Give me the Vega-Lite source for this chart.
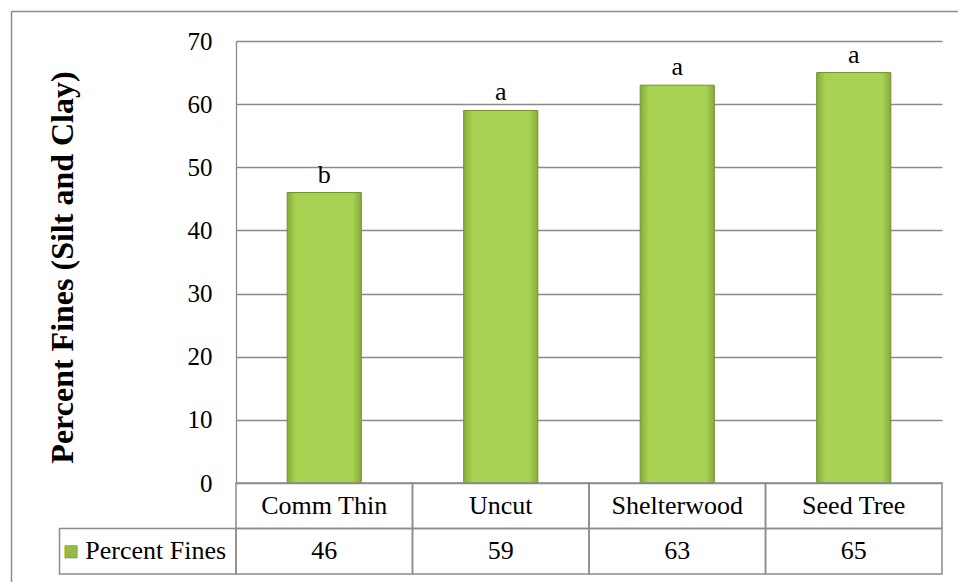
{
  "$schema": "https://vega.github.io/schema/vega-lite/v6.json",
  "width": 706,
  "height": 533,
  "autosize": {"type": "none"},
  "padding": {"left": 236, "top": 41, "right": 16, "bottom": 8},
  "background": "white",
  "config": {"view": {"stroke": null}},
  "datasets": {
    "fines": [
      {"treatment": "Comm Thin", "fines": 46, "letter": "b"},
      {"treatment": "Uncut", "fines": 59, "letter": "a"},
      {"treatment": "Shelterwood", "fines": 63, "letter": "a"},
      {"treatment": "Seed Tree", "fines": 65, "letter": "a"}
    ],
    "legendcell": [
      {"treatment": "Legend", "row": "fines", "label": "Percent Fines", "symbol": "■"}
    ],
    "frame": [{"fx": 0, "fy": 0}]
  },
  "resolve": {"scale": {"x": "independent", "y": "independent"}, "axis": {"x": "independent", "y": "independent"}},
  "layer": [
    {
      "data": {"name": "frame"},
      "mark": {"type": "point", "opacity": 0},
      "encoding": {
        "x": {"field": "fx", "type": "quantitative", "scale": {"domain": [0, 1], "range": [-225, 722], "nice": false, "zero": false},
          "axis": {"orient": "top", "offset": 30, "domainColor": "#8c8c8c", "domainWidth": 1.5, "labels": false, "ticks": false, "grid": false, "title": null}},
        "y": {"field": "fy", "type": "quantitative", "scale": {"domain": [0, 1], "range": [-30, 541], "nice": false, "zero": false},
          "axis": {"orient": "left", "offset": 225, "domainColor": "#8c8c8c", "domainWidth": 1.5, "labels": false, "ticks": false, "grid": false, "title": null}}
      }
    },
    {
      "data": {"name": "fines"},
      "mark": {
        "type": "bar",
        "width": {"band": 0.42},
        "stroke": "#71902f",
        "strokeWidth": 1,
        "fill": {
          "gradient": "linear", "x1": 0, "y1": 0, "x2": 1, "y2": 0,
          "stops": [
            {"offset": 0, "color": "#88ab3b"},
            {"offset": 0.12, "color": "#a8d352"},
            {"offset": 0.88, "color": "#a8d352"},
            {"offset": 1, "color": "#88ab3b"}
          ]
        }
      },
      "encoding": {
        "x": {"field": "treatment", "type": "nominal", "sort": null,
          "scale": {"type": "band", "domain": ["Legend", "Comm Thin", "Uncut", "Shelterwood", "Seed Tree"], "range": [-176.5, 706], "paddingInner": 0, "paddingOuter": 0},
          "axis": null},
        "y": {"field": "fines", "type": "quantitative",
          "scale": {"domain": [0, 70], "range": [442, 0], "nice": false, "zero": true},
          "axis": null}
      }
    },
    {
      "data": {"name": "fines"},
      "mark": {"type": "text", "font": "Liberation Serif", "fontSize": 26, "color": "#000000", "baseline": "alphabetic", "dy": -10},
      "encoding": {
        "x": {"field": "treatment", "type": "nominal", "sort": null,
          "scale": {"type": "band", "domain": ["Comm Thin", "Uncut", "Shelterwood", "Seed Tree"], "range": [0, 706], "paddingInner": 0, "paddingOuter": 0},
          "axis": null},
        "y": {"field": "fines", "type": "quantitative",
          "scale": {"domain": [0, 70], "range": [442, 0], "nice": false, "zero": true},
          "axis": {
            "orient": "left",
            "values": [0, 10, 20, 30, 40, 50, 60, 70],
            "grid": true, "gridColor": "#8a8a8a", "gridWidth": 1.3,
            "domain": true, "domainColor": "#8a8a8a", "domainWidth": 1.3,
            "ticks": false,
            "labelFont": "Liberation Serif", "labelFontSize": 25, "labelColor": "#000000", "labelPadding": 24,
            "title": "Percent Fines (Silt and Clay)",
            "titleFont": "Liberation Serif", "titleFontSize": 32, "titleFontWeight": "bold", "titleColor": "#000000",
            "titleX": -157, "titleY": 226, "titleAngle": -90, "titleBaseline": "bottom", "titleAlign": "center"
          }},
        "text": {"field": "letter"}
      }
    },
    {
      "data": {"name": "fines"},
      "transform": [{"fold": ["treatment", "fines"], "as": ["row", "cell"]}],
      "mark": {"type": "rect", "fill": null, "fillOpacity": 0, "stroke": "#8c8c8c", "strokeWidth": 1.5},
      "encoding": {
        "x": {"field": "treatment", "type": "nominal", "sort": null,
          "scale": {"type": "band", "domain": ["Legend", "Comm Thin", "Uncut", "Shelterwood", "Seed Tree"], "range": [-176.5, 706], "paddingInner": 0, "paddingOuter": 0},
          "axis": null},
        "y": {"field": "row", "type": "nominal",
          "scale": {"type": "band", "domain": ["treatment", "fines"], "range": [442, 533], "paddingInner": 0, "paddingOuter": 0},
          "axis": null}
      }
    },
    {
      "data": {"name": "fines"},
      "transform": [{"fold": ["treatment", "fines"], "as": ["row", "cell"]}],
      "mark": {"type": "text", "font": "Liberation Serif", "fontSize": 26, "color": "#000000", "baseline": "middle"},
      "encoding": {
        "x": {"field": "treatment", "type": "nominal", "sort": null,
          "scale": {"type": "band", "domain": ["Legend", "Comm Thin", "Uncut", "Shelterwood", "Seed Tree"], "range": [-176.5, 706], "paddingInner": 0, "paddingOuter": 0},
          "axis": null},
        "y": {"field": "row", "type": "nominal",
          "scale": {"type": "band", "domain": ["treatment", "fines"], "range": [442, 533], "paddingInner": 0, "paddingOuter": 0},
          "axis": null},
        "text": {"field": "cell"}
      }
    },
    {
      "data": {"name": "legendcell"},
      "mark": {"type": "rect", "fill": null, "fillOpacity": 0, "stroke": "#8c8c8c", "strokeWidth": 1.5},
      "encoding": {
        "x": {"field": "treatment", "type": "nominal", "sort": null,
          "scale": {"type": "band", "domain": ["Legend", "Comm Thin", "Uncut", "Shelterwood", "Seed Tree"], "range": [-176.5, 706], "paddingInner": 0, "paddingOuter": 0},
          "axis": null},
        "y": {"field": "row", "type": "nominal",
          "scale": {"type": "band", "domain": ["treatment", "fines"], "range": [442, 533], "paddingInner": 0, "paddingOuter": 0},
          "axis": null}
      }
    },
    {
      "data": {"name": "legendcell"},
      "mark": {"type": "text", "font": "Liberation Serif", "fontSize": 26, "color": "#000000", "baseline": "middle", "dx": 8},
      "encoding": {
        "x": {"field": "treatment", "type": "nominal", "sort": null,
          "scale": {"type": "band", "domain": ["Legend", "Comm Thin", "Uncut", "Shelterwood", "Seed Tree"], "range": [-176.5, 706], "paddingInner": 0, "paddingOuter": 0},
          "axis": null},
        "y": {"field": "row", "type": "nominal",
          "scale": {"type": "band", "domain": ["treatment", "fines"], "range": [442, 533], "paddingInner": 0, "paddingOuter": 0},
          "axis": null},
        "text": {"field": "label"}
      }
    },
    {
      "data": {"name": "legendcell"},
      "mark": {"type": "text", "font": "DejaVu Sans", "fontSize": 16, "color": "#94bb44", "stroke": "#6f8d2f", "strokeWidth": 0.6, "baseline": "middle", "dx": -77},
      "encoding": {
        "x": {"field": "treatment", "type": "nominal", "sort": null,
          "scale": {"type": "band", "domain": ["Legend", "Comm Thin", "Uncut", "Shelterwood", "Seed Tree"], "range": [-176.5, 706], "paddingInner": 0, "paddingOuter": 0},
          "axis": null},
        "y": {"field": "row", "type": "nominal",
          "scale": {"type": "band", "domain": ["treatment", "fines"], "range": [442, 533], "paddingInner": 0, "paddingOuter": 0},
          "axis": null},
        "text": {"field": "symbol"}
      }
    }
  ]
}
